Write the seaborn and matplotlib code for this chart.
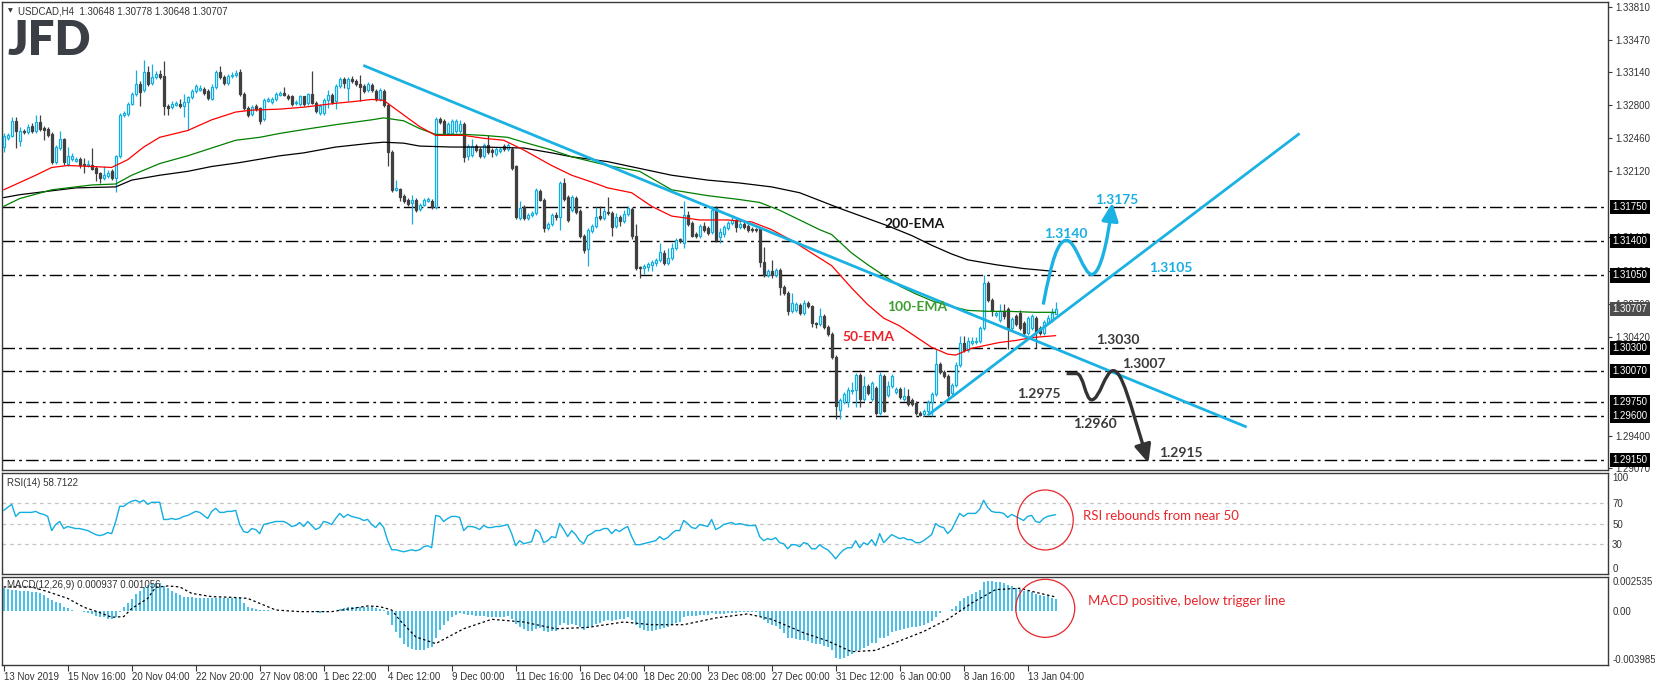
import numpy as np
import pandas as pd
import matplotlib
matplotlib.use("Agg")
import matplotlib.pyplot as plt
import seaborn as sns
from matplotlib.patches import Ellipse, FancyArrowPatch
from matplotlib.path import Path
from matplotlib.transforms import blended_transform_factory

sns.set_theme(style="white")
plt.rcParams["font.family"] = ["Liberation Sans", "DejaVu Sans"]

# ---------------- data (USDCAD H4) ----------------
opens = [
 1.3237,1.3246,1.3248,1.3264,1.3243,1.3254,1.3252,1.3259,1.3253,1.3263,
 1.3257,1.3256,1.3250,1.3222,1.3236,1.3245,1.3220,1.3225,1.3223,1.3225,
 1.3220,1.3219,1.3219,1.3215,1.3210,1.3205,1.3207,1.3212,1.3205,1.3228,
 1.3270,1.3271,1.3281,1.3292,1.3302,1.3296,1.3314,1.3303,1.3309,1.3312,
 1.3310,1.3279,1.3278,1.3280,1.3281,1.3279,1.3283,1.3288,1.3295,1.3296,
 1.3297,1.3295,1.3286,1.3299,1.3314,1.3309,1.3303,1.3310,1.3311,1.3314,
 1.3292,1.3277,1.3271,1.3279,1.3277,1.3266,1.3284,1.3283,1.3286,1.3291,
 1.3293,1.3290,1.3289,1.3282,1.3281,1.3289,1.3282,1.3292,1.3282,1.3272,
 1.3272,1.3285,1.3291,1.3284,1.3300,1.3307,1.3298,1.3307,1.3305,1.3302,
 1.3300,1.3296,1.3301,1.3295,1.3286,1.3295,1.3280,1.3232,1.3193,1.3194,
 1.3187,1.3183,1.3179,1.3183,1.3173,1.3177,1.3181,1.3182,1.3175,1.3266,
 1.3264,1.3251,1.3251,1.3253,1.3253,1.3261,1.3228,1.3229,1.3238,1.3235,
 1.3228,1.3239,1.3234,1.3230,1.3233,1.3238,1.3235,1.3235,1.3217,1.3164,
 1.3175,1.3164,1.3167,1.3169,1.3192,1.3183,1.3154,1.3158,1.3167,1.3165,
 1.3200,1.3186,1.3172,1.3185,1.3171,1.3146,1.3132,1.3151,1.3156,1.3166,
 1.3164,1.3170,1.3169,1.3156,1.3165,1.3161,1.3168,1.3173,1.3145,1.3114,
 1.3113,1.3114,1.3116,1.3118,1.3121,1.3128,1.3118,1.3123,1.3133,1.3142,
 1.3138,1.3167,1.3159,1.3148,1.3145,1.3156,1.3154,1.3150,1.3174,1.3144,
 1.3148,1.3154,1.3159,1.3162,1.3155,1.3158,1.3156,1.3153,1.3153,1.3153,
 1.3119,1.3105,1.3110,1.3105,1.3111,1.3093,1.3087,1.3068,1.3069,1.3075,
 1.3066,1.3077,1.3073,1.3056,1.3055,1.3063,1.3052,1.3045,1.3021,1.2967,
 1.2975,1.2975,1.2986,1.2987,1.3003,1.2978,1.2991,1.2978,1.2989,1.2963,
 1.3002,1.2982,1.2991,1.2985,1.2988,1.2978,1.2981,1.2977,1.2974,1.2963,
 1.2962,1.2966,1.2975,1.2983,1.3014,1.3006,1.3002,1.2984,1.2992,1.3013,
 1.3035,1.3028,1.3035,1.3036,1.3037,1.3051,1.3097,1.3080,1.3064,1.3059,
 1.3068,1.3070,1.3051,1.3063,1.3066,1.3056,1.3046,1.3051,1.3061,1.3051,
 1.3046,1.3057,1.3059,1.30648]
highs = [
 1.3251,1.3251,1.3268,1.3268,1.3258,1.3256,1.3261,1.3262,1.3270,1.3270,
 1.3259,1.3258,1.3252,1.3239,1.3254,1.3246,1.3237,1.3231,1.3227,1.3227,
 1.3226,1.3224,1.3236,1.3217,1.3211,1.3217,1.3213,1.3214,1.3229,1.3272,
 1.3274,1.3283,1.3294,1.3316,1.3305,1.3327,1.3320,1.3322,1.3315,1.3316,
 1.3325,1.3281,1.3284,1.3284,1.3286,1.3292,1.3290,1.3297,1.3302,1.3301,
 1.3299,1.3297,1.3302,1.3316,1.3320,1.3311,1.3312,1.3314,1.3316,1.3317,
 1.3294,1.3279,1.3280,1.3281,1.3278,1.3287,1.3288,1.3288,1.3294,1.3295,
 1.3299,1.3292,1.3291,1.3285,1.3291,1.3290,1.3293,1.3315,1.3284,1.3281,
 1.3287,1.3296,1.3293,1.3302,1.3309,1.3309,1.3309,1.3310,1.3307,1.3311,
 1.3302,1.3304,1.3303,1.3297,1.3298,1.3297,1.3282,1.3234,1.3203,1.3195,
 1.3189,1.3185,1.3188,1.3185,1.3179,1.3185,1.3186,1.3184,1.3268,1.3268,
 1.3266,1.3263,1.3266,1.3266,1.3265,1.3263,1.3240,1.3245,1.3240,1.3237,
 1.3241,1.3249,1.3236,1.3237,1.3237,1.3240,1.3241,1.3237,1.3219,1.3181,
 1.3177,1.3169,1.3171,1.3195,1.3194,1.3185,1.3160,1.3169,1.3170,1.3202,
 1.3205,1.3188,1.3188,1.3187,1.3173,1.3148,1.3154,1.3158,1.3175,1.3176,
 1.3174,1.3186,1.3171,1.3169,1.3167,1.3172,1.3176,1.3175,1.3158,1.3115,
 1.3117,1.3119,1.3121,1.3123,1.3138,1.3131,1.3133,1.3138,1.3143,1.3143,
 1.3181,1.3171,1.3161,1.3150,1.3158,1.3160,1.3156,1.3176,1.3176,1.3154,
 1.3157,1.3161,1.3167,1.3165,1.3163,1.3162,1.3158,1.3155,1.3154,1.3154,
 1.3134,1.3112,1.3121,1.3113,1.3113,1.3095,1.3089,1.3087,1.3078,1.3077,
 1.3080,1.3079,1.3075,1.3057,1.3071,1.3065,1.3054,1.3047,1.3023,1.2979,
 1.2985,1.2990,1.2995,1.3005,1.3005,1.3001,1.2993,1.2996,1.2991,1.3006,
 1.3004,1.2996,1.3004,1.2990,1.2990,1.2990,1.2988,1.2979,1.2976,1.2965,
 1.2968,1.2977,1.2985,1.3029,1.3016,1.3008,1.3004,1.2994,1.3016,1.3043,
 1.3043,1.3042,1.3042,1.3042,1.3053,1.3105,1.3099,1.3082,1.3068,1.3076,
 1.3076,1.3072,1.3062,1.3065,1.3069,1.3058,1.3063,1.3065,1.3063,1.3053,
 1.3059,1.3064,1.3071,1.30778]
lows = [
 1.3232,1.3244,1.3247,1.3236,1.3238,1.3250,1.3250,1.3251,1.3251,1.3254,
 1.3244,1.3247,1.3220,1.3220,1.3234,1.3219,1.3217,1.3223,1.3222,1.3215,
 1.3210,1.3216,1.3213,1.3202,1.3200,1.3203,1.3205,1.3203,1.3191,1.3226,
 1.3268,1.3269,1.3280,1.3290,1.3279,1.3294,1.3300,1.3301,1.3307,1.3307,
 1.3270,1.3270,1.3276,1.3279,1.3277,1.3268,1.3255,1.3286,1.3293,1.3295,
 1.3291,1.3285,1.3285,1.3297,1.3307,1.3301,1.3301,1.3308,1.3309,1.3290,
 1.3275,1.3268,1.3269,1.3274,1.3261,1.3264,1.3283,1.3281,1.3284,1.3290,
 1.3289,1.3285,1.3279,1.3280,1.3279,1.3279,1.3280,1.3281,1.3272,1.3270,
 1.3270,1.3277,1.3281,1.3276,1.3298,1.3298,1.3284,1.3303,1.3300,1.3284,
 1.3293,1.3294,1.3294,1.3284,1.3284,1.3278,1.3218,1.3191,1.3192,1.3181,
 1.3179,1.3176,1.3158,1.3170,1.3171,1.3176,1.3180,1.3173,1.3173,1.3261,
 1.3249,1.3249,1.3249,1.3251,1.3251,1.3222,1.3224,1.3227,1.3232,1.3226,
 1.3226,1.3230,1.3227,1.3228,1.3231,1.3233,1.3233,1.3213,1.3163,1.3162,
 1.3162,1.3162,1.3165,1.3167,1.3181,1.3150,1.3152,1.3156,1.3162,1.3152,
 1.3182,1.3160,1.3170,1.3168,1.3143,1.3128,1.3115,1.3149,1.3154,1.3162,
 1.3162,1.3167,1.3145,1.3154,1.3156,1.3159,1.3166,1.3142,1.3111,1.3102,
 1.3106,1.3110,1.3110,1.3115,1.3119,1.3116,1.3116,1.3121,1.3131,1.3138,
 1.3133,1.3156,1.3144,1.3143,1.3143,1.3150,1.3147,1.3148,1.3139,1.3138,
 1.3144,1.3152,1.3157,1.3150,1.3153,1.3153,1.3150,1.3150,1.3150,1.3114,
 1.3103,1.3103,1.3102,1.3103,1.3085,1.3085,1.3064,1.3066,1.3067,1.3064,
 1.3064,1.3071,1.3052,1.3051,1.3053,1.3050,1.3043,1.3019,1.2957,1.2957,
 1.2973,1.2970,1.2983,1.2970,1.2970,1.2976,1.2982,1.2976,1.2961,1.2961,
 1.2964,1.2980,1.2989,1.2983,1.2978,1.2976,1.2971,1.2971,1.2961,1.2960,
 1.2960,1.2963,1.2960,1.2981,1.3004,1.2999,1.2980,1.2982,1.2990,1.3011,
 1.3026,1.3026,1.3033,1.3034,1.3035,1.3049,1.3078,1.3063,1.3062,1.3057,
 1.3060,1.3029,1.3049,1.3053,1.3049,1.3044,1.3044,1.3049,1.3030,1.3044,
 1.3044,1.3055,1.3057,1.30648]
closes = [
 1.3248,1.3249,1.3264,1.3254,1.3254,1.3252,1.3258,1.3253,1.3263,1.3256,
 1.3255,1.3249,1.3222,1.3237,1.3245,1.3222,1.3228,1.3228,1.3225,1.3219,
 1.3219,1.3220,1.3214,1.3210,1.3205,1.3208,1.3210,1.3205,1.3228,1.3270,
 1.3272,1.3281,1.3292,1.3302,1.3294,1.3314,1.3302,1.3309,1.3312,1.3309,
 1.3279,1.3277,1.3281,1.3282,1.3279,1.3283,1.3288,1.3295,1.3300,1.3298,
 1.3293,1.3287,1.3299,1.3314,1.3309,1.3303,1.3310,1.3311,1.3313,1.3292,
 1.3277,1.3270,1.3278,1.3276,1.3264,1.3285,1.3286,1.3286,1.3292,1.3293,
 1.3291,1.3287,1.3281,1.3283,1.3289,1.3281,1.3292,1.3282,1.3274,1.3279,
 1.3285,1.3291,1.3283,1.3300,1.3307,1.3303,1.3307,1.3305,1.3302,1.3299,
 1.3295,1.3302,1.3296,1.3286,1.3296,1.3280,1.3232,1.3193,1.3195,1.3186,
 1.3181,1.3178,1.3183,1.3172,1.3177,1.3183,1.3184,1.3175,1.3266,1.3263,
 1.3251,1.3261,1.3264,1.3264,1.3261,1.3227,1.3238,1.3238,1.3234,1.3228,
 1.3239,1.3232,1.3232,1.3235,1.3235,1.3235,1.3239,1.3215,1.3165,1.3174,
 1.3164,1.3167,1.3169,1.3193,1.3183,1.3154,1.3158,1.3167,1.3165,1.3200,
 1.3184,1.3162,1.3186,1.3170,1.3145,1.3131,1.3152,1.3156,1.3165,1.3164,
 1.3171,1.3169,1.3155,1.3165,1.3161,1.3168,1.3174,1.3145,1.3113,1.3113,
 1.3115,1.3117,1.3119,1.3121,1.3129,1.3118,1.3123,1.3133,1.3141,1.3140,
 1.3167,1.3158,1.3146,1.3145,1.3156,1.3152,1.3149,1.3172,1.3141,1.3150,
 1.3155,1.3159,1.3162,1.3155,1.3158,1.3155,1.3152,1.3152,1.3152,1.3119,
 1.3105,1.3110,1.3105,1.3111,1.3093,1.3087,1.3068,1.3077,1.3076,1.3066,
 1.3077,1.3073,1.3056,1.3055,1.3063,1.3052,1.3045,1.3021,1.2971,1.2977,
 1.2983,1.2987,1.2987,1.3003,1.2978,1.2991,1.2984,1.2994,1.2963,1.3003,
 1.2966,1.2991,1.3002,1.2988,1.2980,1.2981,1.2973,1.2973,1.2963,1.2961,
 1.2966,1.2975,1.2983,1.3014,1.3006,1.3001,1.2982,1.2992,1.3013,1.3035,
 1.3028,1.3037,1.3038,1.3038,1.3051,1.3097,1.3080,1.3068,1.3066,1.3068,
 1.3063,1.3051,1.3060,1.3055,1.3051,1.3046,1.3061,1.3063,1.3047,1.3046,
 1.3057,1.3061,1.3066,1.30707]

ema50_idx = [0,8,12,16,22,27,31,35,39,46,52,58,62,69,75,83,88,92,95,100,104,108,115,120,125,130,137,142,147,151,157,162,167,174,181,187,192,197,202,207,212,216,220,224,228,232,236,238,242,249,253,257,263]
ema50_val = [1.3193,1.3208,1.3216,1.3218,1.3217,1.3216,1.3224,1.3237,1.3247,1.3254,1.3265,1.3273,1.3275,1.3276,1.3278,1.3282,1.3284,1.3286,1.3285,1.3270,1.3258,1.3249,1.3249,1.3246,1.3244,1.3234,1.3218,1.3208,1.3201,1.3195,1.3190,1.3176,1.3166,1.3162,1.3162,1.3160,1.3152,1.3141,1.3128,1.3115,1.3092,1.3075,1.3061,1.3053,1.3042,1.3031,1.3024,1.3023,1.3030,1.3036,1.3038,1.3041,1.3043]
ema100_idx = [0,4,12,18,22,28,32,39,46,52,58,64,69,75,83,92,95,100,104,108,115,120,126,130,137,142,147,151,159,167,176,184,189,194,199,204,207,212,216,220,224,228,232,236,241,246,251,258,263]
ema100_val = [1.3176,1.3184,1.3193,1.3196,1.3198,1.3199,1.3208,1.3220,1.3228,1.3236,1.3244,1.3247,1.3251,1.3255,1.3260,1.3265,1.3267,1.3264,1.3256,1.3250,1.3250,1.3249,1.3247,1.3242,1.3234,1.3227,1.3222,1.3218,1.3212,1.3193,1.3187,1.3183,1.3180,1.3172,1.3162,1.3152,1.3147,1.3128,1.3116,1.3105,1.3094,1.3086,1.3079,1.3074,1.3069,1.3068,1.3068,1.3067,1.3067]
ema200_idx = [0,4,12,18,28,32,39,46,52,59,69,75,83,92,95,100,104,112,120,130,137,142,151,159,167,176,184,192,199,204,209,215,221,227,232,237,241,248,255,263]
ema200_val = [1.3185,1.3188,1.3192,1.3195,1.3196,1.3203,1.3208,1.3212,1.3217,1.3221,1.3228,1.3231,1.3237,1.3241,1.3242,1.3241,1.3238,1.3237,1.3237,1.3236,1.3231,1.3227,1.3222,1.3215,1.3208,1.3203,1.3200,1.3196,1.3190,1.3182,1.3174,1.3165,1.3156,1.3146,1.3136,1.3127,1.3121,1.3116,1.3112,1.3109]

rsi_vals = [
 63,66,69,57,61,61,61,61,62,60, 59,57,43,49,52,45,47,46,45,45,
 44,43,41,39,38,39,41,40,52,67, 67,70,72,73,71,73,69,71,71,71,
 54,54,55,54,55,57,58,60,62,61, 58,55,62,65,61,61,62,62,63,49,
 42,41,45,44,40,49,50,51,52,52, 52,50,47,48,51,47,52,48,44,46,
 52,51,49,55,60,56,59,57,56,55, 53,54,49,46,51,46,33,24,24,23,
 22,23,24,23,24,27,28,26,58,57, 52,55,57,57,56,43,47,47,46,44,
 48,46,46,47,47,48,49,40,28,33, 30,31,32,44,41,31,33,37,36,50,
 44,37,43,39,33,30,38,40,43,43, 45,45,40,44,42,45,47,37,29,29,
 30,31,32,33,37,34,36,40,43,43, 53,50,46,45,49,48,47,54,44,46,
 49,50,51,49,50,49,48,48,48,37, 33,35,34,36,31,30,25,29,29,27,
 31,30,25,25,29,26,24,20,15,20, 24,26,26,33,26,31,29,34,28,40,
 31,35,39,37,35,36,34,34,31,31, 33,36,39,50,47,46,40,44,52,60,
 57,60,60,60,64,73,66,62,61,61, 60,56,59,57,55,53,57,58,52,51,
 55,57,58,58.7]

macd_hist = [
 0.00169,0.00162,0.00157,0.00157,0.00152,0.00152,0.00152,0.00145,0.00145,0.00137,
 0.00120,0.00100,0.00083,0.00071,0.00058,0.00034,0.00021,0.00009,0.00001,-0.00001,
 -0.00006,-0.00011,-0.00021,-0.00033,-0.00041,-0.00045,-0.00058,-0.00060,-0.00041,-0.00003,
 0.00029,0.00058,0.00088,0.00127,0.00152,0.00182,0.00194,0.00206,0.00211,0.00211,
 0.00187,0.00169,0.00152,0.00137,0.00120,0.00108,0.00103,0.00103,0.00100,0.00100,
 0.00100,0.00095,0.00095,0.00100,0.00100,0.00100,0.00100,0.00100,0.00100,0.00095,
 0.00063,0.00034,0.00021,0.00014,0.00009,0.00009,0.00009,0.00004,0.00001,0.00001,
 0.00001,0.00001,-0.00001,-0.00001,-0.00001,-0.00001,-0.00001,-0.00001,-0.00006,-0.00011,
 -0.00003,-0.00001,0.00001,0.00001,0.00014,0.00021,0.00029,0.00034,0.00034,0.00034,
 0.00034,0.00034,0.00029,0.00021,0.00014,0.00009,-0.00028,-0.00102,-0.00152,-0.00200,
 -0.00240,-0.00265,-0.00280,-0.00290,-0.00290,
 -0.00285,-0.00275,-0.00265,-0.00200,-0.00140,-0.00100,-0.00070,-0.00045,-0.00025,-0.00012,
 -0.00020,-0.00025,-0.00028,-0.00032,-0.00038,-0.00038,-0.00040,-0.00042,-0.00042,-0.00042,-0.00040,-0.00038,
 -0.00055,-0.00095,-0.00115,-0.00135,-0.00145,-0.00150,-0.00130,-0.00125,-0.00145,-0.00155,-0.00150,-0.00145,
 -0.00100,-0.00090,-0.00100,-0.00095,-0.00100,-0.00120,-0.00140,-0.00125,-0.00110,-0.00095,-0.00085,-0.00075,
 -0.00065,-0.00070,-0.00065,-0.00060,-0.00055,-0.00045,-0.00065,-0.00100,-0.00125,-0.00140,-0.00145,-0.00145,
 -0.00140,-0.00130,-0.00125,-0.00120,-0.00105,-0.00090,-0.00080,-0.00045,-0.00035,-0.00035,-0.00035,-0.00028,
 -0.00025,-0.00025,-0.00010,-0.00020,-0.00022,-0.00020,-0.00015,-0.00010,-0.00010,-0.00008,-0.00008,-0.00008,
 -0.00008,-0.00008,-0.00035,-0.00065,-0.00085,-0.00100,-0.00110,-0.00135,-0.00160,-0.00195,-0.00200,-0.00205,
 -0.00215,-0.00215,-0.00220,-0.00235,-0.00245,-0.00245,-0.00255,-0.00265,-0.00290,-0.00345,-0.00355,-0.00345,
 -0.00335,-0.00320,-0.00295,-0.00290,-0.00270,-0.00255,-0.00235,-0.00235,-0.00200,-0.00200,-0.00180,-0.00155,
 -0.00145,-0.00140,-0.00130,-0.00125,-0.00120,-0.00115,-0.00110,-0.00100,-0.00090,-0.00075,-0.00040,-0.00015,
 0.00000,0.00000,0.00015,0.00040,0.00075,0.00095,0.00115,0.00130,0.00140,0.00160,0.00215,0.00225,
 0.00225,0.00220,0.00215,0.00210,0.00195,0.00190,0.00175,0.00165,0.00150,0.00150,0.00145,0.00130,
 0.00120,0.00115,0.00110,0.00100,0.00094]

signal_idx = [0,7,11,16,20,24,27,30,32,36,38,41,44,47,52,57,61,65,68,74,82,87,91,94,97,99,103,108,115,122,130,138,146,155,162,170,178,186,192,200,206,212,218,224,230,236,242,248,254,258,263]
signal_val = [0.0018,0.0018,0.00145,0.00095,0.0003,-0.0001,-0.00045,-0.0004,0.0002,0.00095,0.00177,0.00187,0.0018,0.00132,0.00108,0.00103,0.00095,0.00046,0.00009,-0.00003,-0.00003,0.0002,0.00039,0.00034,0.00009,-0.00065,-0.0019,-0.0024,-0.0013,-0.0006,-0.0008,-0.0013,-0.0012,-0.0008,-0.0010,-0.0010,-0.0005,-0.0002,-0.0006,-0.0016,-0.0022,-0.0030,-0.0029,-0.0022,-0.0015,-0.0006,0.0006,0.0016,0.0017,0.0014,0.001056]

date_labels = ["13 Nov 2019", "15 Nov 16:00", "20 Nov 04:00", "22 Nov 20:00", "27 Nov 08:00",
               "1 Dec 22:00", "4 Dec 12:00", "9 Dec 00:00", "11 Dec 16:00", "16 Dec 04:00",
               "18 Dec 20:00", "23 Dec 08:00", "27 Dec 00:00", "31 Dec 12:00", "6 Jan 00:00",
               "8 Jan 16:00", "13 Jan 04:00"]
price_ticks = [1.33810, 1.33470, 1.33140, 1.32800, 1.32460, 1.32120, 1.31440,
               1.31100, 1.30760, 1.30420, 1.29400, 1.29070]
levels = [1.3175, 1.3140, 1.3105, 1.3030, 1.3007, 1.2975, 1.2960, 1.2915]
last_price = 1.30707

# drawn analysis (bar index, price)
down_trend_x, down_trend_y = [89.9, 310.75], [1.3321, 1.2949]
up_trend_x, up_trend_y = [231.0, 324.0], [1.2961, 1.3251]
up_path_x = [259.9, 262.0, 263.5, 265.75, 268.0, 270.0, 272.0, 274.2, 276.0, 277.2]
up_path_y = [1.3075, 1.3120, 1.3141, 1.3141, 1.3141, 1.3106, 1.3106, 1.3106, 1.3140, 1.3180]
dn_path_x = [265.75, 268.2, 270.0, 270.4, 272.0, 274.0, 275.4, 277.4, 279.6, 281.5, 286.2]
dn_path_y = [1.3004, 1.3004, 1.3004, 1.2977, 1.2977, 1.2977, 1.3007, 1.3007, 1.3007, 1.2975, 1.2912]

notes = [("1.3175", 278.3, 1.3183, "#19afe0"), ("1.3140", 265.5, 1.3148, "#19afe0"),
         ("1.3105", 291.7, 1.3113, "#19afe0"), ("200-EMA", 227.8, 1.3158, "#141414"),
         ("100-EMA", 228.3, 1.3072, "#3c9e30"), ("50-EMA", 216.2, 1.3042, "#e8262b"),
         ("1.3030", 278.6, 1.3039, "#3a3a3a"), ("1.3007", 285.1, 1.3014, "#3a3a3a"),
         ("1.2975", 258.8, 1.2983, "#3a3a3a"), ("1.2960", 272.8, 1.2952, "#3a3a3a"),
         ("1.2915", 294.3, 1.2922, "#3a3a3a")]

# ---------------- layout ----------------
W, H = 1655, 686
fig = plt.figure(figsize=(W / 100, H / 100), dpi=100)
fig.patch.set_facecolor("white")

def rect(x0, y0, x1, y1):
    return [x0 / W, 1 - y1 / H, (x1 - x0) / W, (y1 - y0) / H]

ax = fig.add_axes(rect(2, 2, 1608, 470))
ax_rsi = fig.add_axes(rect(2, 473, 1608, 574))
ax_macd = fig.add_axes(rect(2, 577, 1608, 665))

XL = (-0.425, 401.1)
CYAN = "#12aee0"
DARK = "#404040"
TICKC = "#333333"

for a in (ax, ax_rsi, ax_macd):
    a.set_facecolor("white")
    a.set_xlim(*XL)
    for s in a.spines.values():
        s.set_color("#3a3a3a")
        s.set_linewidth(1.0)
    a.grid(False)

n = len(closes)
idx = np.arange(n)
df = pd.DataFrame({"o": opens, "h": highs, "l": lows, "c": closes}, index=idx)
bull = df["c"] >= df["o"]

# ---------------- main price panel ----------------
ax.set_ylim(1.29048, 1.33862)
for lv in levels:
    ax.axhline(lv, color="black", lw=1.0, dashes=(9, 3, 2, 3), zorder=1)

wick_colors = np.where(bull, CYAN, DARK)
ax.vlines(idx, df["l"], df["h"], colors=wick_colors, lw=0.9, zorder=2)
body_bottom = np.minimum(df["o"], df["c"])
body_h = (df["c"] - df["o"]).abs()
ax.bar(idx[bull], body_h[bull], bottom=body_bottom[bull], width=0.55,
       color="white", edgecolor=CYAN, linewidth=0.9, zorder=3)
ax.bar(idx[~bull], body_h[~bull], bottom=body_bottom[~bull], width=0.55,
       color=DARK, edgecolor=DARK, linewidth=0.9, zorder=3)

sns.lineplot(x=ema200_idx, y=ema200_val, ax=ax, color="black", lw=0.9, zorder=4)
sns.lineplot(x=ema100_idx, y=ema100_val, ax=ax, color="#008000", lw=0.9, zorder=4)
sns.lineplot(x=ema50_idx, y=ema50_val, ax=ax, color="#ff0000", lw=0.9, zorder=4)

ax.plot(down_trend_x, down_trend_y, color="#1ab1e3", lw=2.0, zorder=5, solid_capstyle="butt")
ax.plot(up_trend_x, up_trend_y, color="#1ab1e3", lw=2.0, zorder=5, solid_capstyle="butt")

up_codes = [Path.MOVETO] + [Path.CURVE4] * 9
dn_codes = [Path.MOVETO, Path.LINETO] + [Path.CURVE4] * 9
for px, py, codes, col in ((up_path_x, up_path_y, up_codes, "#1ab1e3"),
                           (dn_path_x, dn_path_y, dn_codes, "#333333")):
    arr = FancyArrowPatch(path=Path(np.column_stack([px, py]), codes),
                          arrowstyle="-|>,head_length=0.55,head_width=0.25",
                          mutation_scale=20, lw=2.4, color=col, zorder=6,
                          joinstyle="round", capstyle="butt")
    ax.add_patch(arr)

for txt, xi, yv, col in notes:
    ax.text(xi, yv, txt, color=col, fontsize=10, fontweight="bold",
            family=["Lato", "DejaVu Sans"], ha="center", va="center", zorder=7)

ax.set_xticks([])
ax.yaxis.tick_right()
ax.set_yticks(price_ticks)
ax.set_yticklabels([f"{t:.5f}" for t in price_ticks])
ax.tick_params(axis="y", which="both", right=True, left=False, length=3, width=0.8,
               color="#3a3a3a", labelsize=7, labelcolor=TICKC, pad=2)
ax.set_xlabel("")
ax.set_ylabel("")

bt = blended_transform_factory(ax.transAxes, ax.transData)
xbox = 1 + 4.5 / 1606
for lv in levels:
    ax.text(xbox, lv, f"{lv:.5f}", transform=bt, ha="left", va="center", fontsize=7,
            color="white", zorder=10, clip_on=False,
            bbox=dict(boxstyle="square,pad=0.22", fc="black", ec="none"))
ax.text(xbox, last_price, f"{last_price:.5f}", transform=bt, ha="left", va="center",
        fontsize=7, color="white", zorder=10, clip_on=False,
        bbox=dict(boxstyle="square,pad=0.22", fc="#4d4d4d", ec="none"))

# ---------------- RSI panel ----------------
ax_rsi.set_ylim(0, 100)
for lv in (70, 50, 30):
    ax_rsi.axhline(lv, color="#c4c4c4", lw=0.9, dashes=(3, 3), zorder=1)
sns.lineplot(x=idx, y=rsi_vals, ax=ax_rsi, color=CYAN, lw=1.0, zorder=3)
ax_rsi.set_xticks([])
ax_rsi.yaxis.tick_right()
ax_rsi.set_yticks([0, 30, 50, 70, 100])
ax_rsi.set_yticklabels(["0", "30", "50", "70", "100"])
ax_rsi.tick_params(axis="y", right=True, left=False, length=0, labelsize=7,
                   labelcolor=TICKC, pad=3)
labs = ax_rsi.get_yticklabels()
labs[0].set_va("bottom")
labs[-1].set_va("top")
ax_rsi.set_xlabel("")
ax_rsi.set_ylabel("")
ax_rsi.text(0.0031, 0.904, "RSI(14) 58.7122", transform=ax_rsi.transAxes, fontsize=7,
            color=TICKC, ha="left", va="center")
ax_rsi.add_patch(Ellipse((260.4, 53.5), 14.0, 59.4, fill=False, ec="#e8262b", lw=0.9,
                         zorder=6, clip_on=False))
ax_rsi.text(269.8, 57.5, "RSI rebounds from near 50", color="#e8262b", fontsize=9.5,
            family=["Lato", "DejaVu Sans"], ha="left", va="center")

# ---------------- MACD panel ----------------
ax_macd.set_ylim(-0.003985, 0.002535)
ax_macd.vlines(idx, 0, macd_hist, colors=CYAN, lw=1.1, zorder=2)
sns.lineplot(x=signal_idx, y=signal_val, ax=ax_macd, color="black", lw=0.9,
             dashes=False, zorder=3)
ax_macd.lines[-1].set_dashes((2, 2))
ax_macd.yaxis.tick_right()
ax_macd.set_yticks([-0.003985, 0.0, 0.002535])
ax_macd.set_yticklabels(["-0.003985", "0.00", "0.002535"])
ax_macd.tick_params(axis="y", right=True, left=False, length=0, labelsize=7,
                    labelcolor=TICKC, pad=3)
ml = ax_macd.get_yticklabels()
ml[0].set_va("bottom")
ml[-1].set_va("top")
ax_macd.set_xticks(np.arange(0, 257, 16))
ax_macd.set_xticklabels(date_labels)
ax_macd.tick_params(axis="x", bottom=True, length=4, width=0.8, color="#3a3a3a",
                    labelsize=7, labelcolor=TICKC, pad=1)
for lb in ax_macd.get_xticklabels():
    lb.set_ha("left")
ax_macd.set_xlabel("")
ax_macd.set_ylabel("")
ax_macd.text(0.0031, 0.909, "MACD(12,26,9) 0.000937 0.001056", transform=ax_macd.transAxes,
             fontsize=7, color=TICKC, ha="left", va="center")
ax_macd.add_patch(Ellipse((260.4, 0.000215), 14.75, 0.0043, fill=False, ec="#e8262b",
                          lw=0.9, zorder=6, clip_on=False))
ax_macd.text(271.0, 0.00079, "MACD positive, below trigger line", color="#e8262b",
             fontsize=9.5, family=["Lato", "DejaVu Sans"], ha="left", va="center")

# ---------------- header & logo ----------------
fig.text(8 / W, 1 - 11 / H, "\u25bc", fontsize=4.5, color="#333333", va="center",
         family=["DejaVu Sans"])
fig.text(18 / W, 1 - 11 / H, "USDCAD,H4  1.30648 1.30778 1.30648 1.30707", fontsize=7,
         color=TICKC, va="center", ha="left")
fig.text(7 / W, 1 - 41 / H, "JFD", fontsize=34, fontweight="heavy", color="#3b3e45",
         family=["Lato", "DejaVu Sans"], va="center", ha="left")

fig.savefig("out.png", dpi=100, facecolor="white")
